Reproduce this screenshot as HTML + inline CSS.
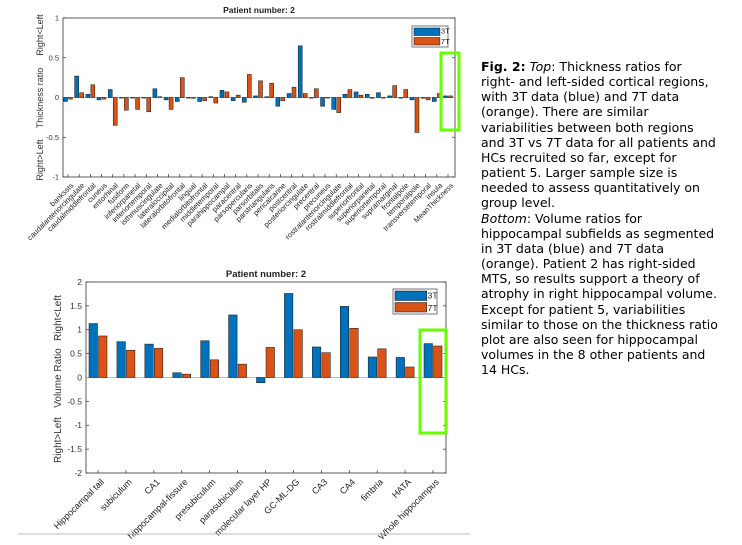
<!DOCTYPE html>
<html><head><meta charset="utf-8"><style>
body{margin:0;width:742px;height:545px;background:#fff;overflow:hidden;position:relative;font-family:"Liberation Sans",sans-serif}
#cap{position:absolute;left:481px;top:59px;font-family:"DejaVu Sans",sans-serif;font-size:12.5px;line-height:15.15px;color:#000;white-space:nowrap}
</style></head><body>
<svg id="s" width="742" height="545" style="position:absolute;left:0;top:0" font-family="Liberation Sans, sans-serif"></svg>
<div id="cap"><b>Fig. 2:</b> <i>Top</i>: Thickness ratios for<br>right- and left-sided cortical regions,<br>with 3T data (blue) and 7T data<br>(orange). There are similar<br>variabilities between both regions<br>and 3T vs 7T data for all patients and<br>HCs recruited so far, except for<br>patient 5. Larger sample size is<br>needed to assess quantitatively on<br>group level.<br><i>Bottom</i>: Volume ratios for<br>hippocampal subfields as segmented<br>in 3T data (blue) and 7T data<br>(orange). Patient 2 has right-sided<br>MTS, so results support a theory of<br>atrophy in right hippocampal volume.<br>Except for patient 5, variabilities<br>similar to those on the thickness ratio<br>plot are also seen for hippocampal<br>volumes in the 8 other patients and<br>14 HCs.</div>
<script>
const s=document.getElementById('s');let h='';
function chart(o){
 const {L,R,T,B,ymin,ymax,ticks,cats,vals,bw,fs,lfs,title,ylab,leg}=o;
 const Y=v=>T+(ymax-v)/(ymax-ymin)*(B-T);
 h+=`<rect x="${L}" y="${T}" width="${R-L}" height="${B-T}" fill="#fff" stroke="#333" stroke-width="0.8"/>`;
 ticks.forEach(t=>{const y=Y(t);h+=`<line x1="${L}" x2="${L+3}" y1="${y}" y2="${y}" stroke="#333" stroke-width="0.7"/><line x1="${R}" x2="${R-3}" y1="${y}" y2="${y}" stroke="#333" stroke-width="0.7"/><text x="${L-4}" y="${y+fs*0.35}" font-size="${fs}" text-anchor="end" fill="#333">${t}</text>`});
 const n=cats.length,x0=o.x0,x1=o.x1,sp=(x1-x0)/(n-1);
 h+=`<line x1="${L}" x2="${R}" y1="${Y(0)}" y2="${Y(0)}" stroke="#aaa" stroke-width="0.8"/>`;
 cats.forEach((c,i)=>{const x=x0+i*sp,[a,b]=vals[i];
  h+=`<line x1="${x}" x2="${x}" y1="${B}" y2="${B-3}" stroke="#333" stroke-width="0.7"/>`;
  [[a,x-bw-0.5,'#0072BD'],[b,x+0.5,'#D95319']].forEach(([v,bx,col])=>{const y1=Y(Math.max(v,0)),y2=Y(Math.min(v,0));h+=`<rect x="${bx}" y="${y1}" width="${bw}" height="${Math.max(y2-y1,0.6)}" fill="${col}" stroke="#111" stroke-width="0.5"/>`});
  h+=`<text transform="translate(${x+2},${B+5}) rotate(-45)" font-size="${lfs}" text-anchor="end" dominant-baseline="hanging" fill="#222">${c}</text>`;});
 h+=`<text x="${(L+R)/2}" y="${T-5}" font-size="${fs+1}" font-weight="bold" text-anchor="middle" fill="#222">${title}</text>`;
 ylab.forEach(([t,x,y,f])=>{h+=`<text transform="translate(${x},${y}) rotate(-90)" font-size="${f}" text-anchor="middle" fill="#333">${t}</text>`});
 const [lx,ly,lw,lh]=leg;h+=`<rect x="${lx}" y="${ly}" width="${lw}" height="${lh}" fill="#fff" stroke="#555" stroke-width="0.8"/>`;
 const sw=lw*0.72,rh=lh/2-3;
 h+=`<rect x="${lx+2}" y="${ly+2}" width="${sw}" height="${rh}" fill="#0072BD" stroke="#111" stroke-width="0.5"/><rect x="${lx+2}" y="${ly+lh/2+1}" width="${sw}" height="${rh}" fill="#D95319" stroke="#111" stroke-width="0.5"/>`;
 h+=`<text x="${lx+sw+3}" y="${ly+rh}" font-size="${fs}" fill="#222">3T</text><text x="${lx+sw+3}" y="${ly+lh/2+rh}" font-size="${fs}" fill="#222">7T</text>`;
}
chart({L:63,R:455,T:18,B:177,ymin:-1,ymax:1,ticks:[1,0.5,0,-0.5,-1],x0:68,x1:448,bw:4,fs:7.5,lfs:7.5,title:'Patient number: 2',
 ylab:[['Right&lt;Left',43,35,9],['Thickness ratio',43,98,9],['Right&gt;Left',43,160,9]],leg:[412,26,36,21],
 cats:['bankssts','caudalanteriorcingulate','caudalmiddlefrontal','cuneus','entorhinal','fusiform','inferiorparietal','inferiortemporal','isthmuscingulate','lateraloccipital','lateralorbitofrontal','lingual','medialorbitofrontal','middletemporal','parahippocampal','paracentral','parsopercularis','parsorbitalis','parstriangularis','pericalcarine','postcentral','posteriorcingulate','precentral','precuneus','rostralanteriorcingulate','rostralmiddlefrontal','superiorfrontal','superiorparietal','superiortemporal','supramarginal','frontalpole','temporalpole','transversetemporal','insula','MeanThickness'],
 vals:[[-0.05,-0.02],[0.27,0.06],[0.04,0.16],[-0.03,-0.02],[0.1,-0.35],[-0.005,-0.16],[0,-0.15],[0,-0.18],[0.11,0.01],[-0.03,-0.15],[-0.05,0.25],[0,-0.01],[-0.05,-0.04],[0.01,-0.07],[0.09,0.07],[-0.04,0.03],[-0.06,0.29],[0.02,0.21],[0.01,0.18],[-0.11,-0.04],[0.05,0.13],[0.65,0.05],[0,0.11],[-0.11,0],[-0.15,-0.19],[0.04,0.1],[0.07,0.03],[0.04,-0.01],[0.06,0],[0.02,0.15],[0,0.1],[-0.03,-0.44],[-0.01,-0.03],[-0.05,0.05],[0.02,0.02]]});
chart({L:86,R:446,T:282,B:473,ymin:-2,ymax:2,ticks:[2,1.5,1,0.5,0,-0.5,-1,-1.5,-2],x0:98,x1:433,bw:8.5,fs:8.5,lfs:9,title:'Patient number: 2',
 ylab:[['Right&lt;Left',61,318,10],['Volume Ratio',61,378,10],['Right&gt;Left',61,440,10]],leg:[393,289,44,25],
 cats:['Hippocampal tail','subiculum','CA1','hippocampal-fissure','presubiculum','parasubiculum','molecular layer HP','GC-ML-DG','CA3','CA4','fimbria','HATA','Whole hippocampus'],
 vals:[[1.13,0.87],[0.75,0.57],[0.7,0.61],[0.1,0.07],[0.77,0.37],[1.31,0.28],[-0.11,0.63],[1.76,1.0],[0.64,0.52],[1.49,1.03],[0.43,0.6],[0.42,0.22],[0.71,0.66]]});
h+=`<rect x="441" y="53" width="18" height="77" fill="none" stroke="#6f0" stroke-width="3"/>`;
h+=`<rect x="420" y="330" width="26" height="103" fill="none" stroke="#6f0" stroke-width="3"/>`;
h+=`<line x1="18" x2="470" y1="534" y2="534" stroke="#bbb" stroke-width="1"/>`;
s.innerHTML=h;
</script>
</body></html>
